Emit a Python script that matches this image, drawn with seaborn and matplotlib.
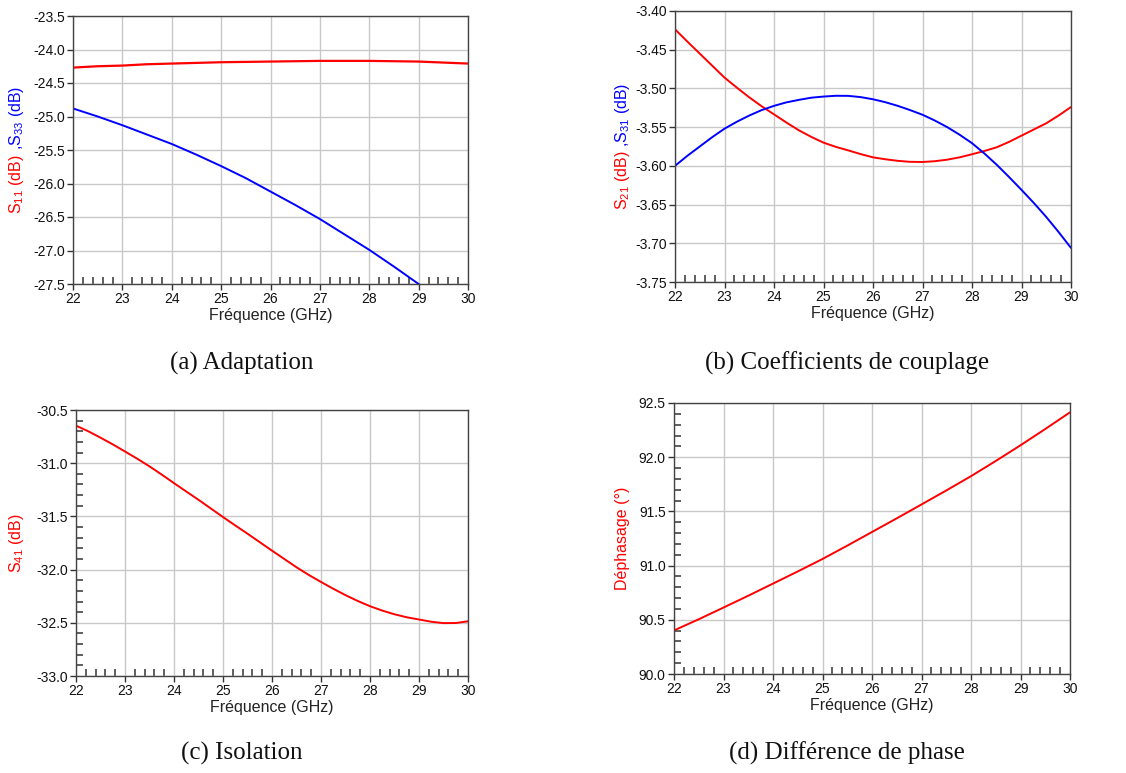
import numpy as np
import pandas as pd
import matplotlib
matplotlib.use("Agg")
import matplotlib.pyplot as plt
from matplotlib.ticker import MultipleLocator, FormatStrFormatter
import seaborn as sns

# frequency grid (GHz)
freq = [22.0, 22.5, 23.0, 23.5, 24.0, 24.5, 25.0, 25.5, 26.0,
        26.5, 27.0, 27.5, 28.0, 28.5, 29.0, 29.5, 30.0]
# finer grid for the more curved traces
freq_q = [22.0, 22.25, 22.5, 22.75, 23.0, 23.25, 23.5, 23.75, 24.0, 24.25, 24.5,
          24.75, 25.0, 25.25, 25.5, 25.75, 26.0, 26.25, 26.5, 26.75, 27.0, 27.25,
          27.5, 27.75, 28.0, 28.25, 28.5, 28.75, 29.0, 29.25, 29.5, 29.75, 30.0]

# (a) adaptation
s11 = [-24.27, -24.25, -24.24, -24.22, -24.21, -24.20, -24.19, -24.185, -24.18,
       -24.175, -24.17, -24.17, -24.17, -24.175, -24.18, -24.195, -24.21]
s33 = [-24.88, -25.00, -25.13, -25.27, -25.41, -25.57, -25.74, -25.92, -26.12,
       -26.32, -26.53, -26.76, -26.99, -27.24, -27.50, -27.77, -28.05]

# (b) coupling
s21 = [-3.4236, -3.4395, -3.455, -3.4705, -3.486, -3.499, -3.5115, -3.523, -3.5335,
       -3.544, -3.554, -3.5625, -3.570, -3.5755, -3.580, -3.5848, -3.589, -3.5915,
       -3.5935, -3.5948, -3.595, -3.594, -3.592, -3.589, -3.585, -3.5808, -3.576,
       -3.569, -3.561, -3.553, -3.545, -3.535, -3.524]
s31 = [-3.600, -3.587, -3.575, -3.563, -3.552, -3.543, -3.535, -3.528, -3.5225,
       -3.518, -3.5148, -3.512, -3.5105, -3.5095, -3.5096, -3.5112, -3.514, -3.5178,
       -3.5225, -3.528, -3.534, -3.5415, -3.550, -3.5598, -3.5707, -3.584, -3.5986,
       -3.6145, -3.631, -3.648, -3.666, -3.6855, -3.706]

# (c) isolation
s41 = [-30.647, -30.70, -30.76, -30.823, -30.89, -30.958, -31.03, -31.107, -31.1875,
       -31.266, -31.344, -31.425, -31.506, -31.585, -31.6625, -31.742, -31.822,
       -31.90, -31.978, -32.05, -32.116, -32.18, -32.24, -32.295, -32.344, -32.385,
       -32.42, -32.448, -32.469, -32.49, -32.503, -32.502, -32.486]

# (d) phase difference
phase = [90.402, 90.505, 90.613, 90.722, 90.834, 90.946, 91.061, 91.184, 91.310,
         91.436, 91.564, 91.693, 91.825, 91.965, 92.110, 92.26, 92.414]

captions = ["(a) Adaptation", "(b) Coefficients de couplage",
            "(c) Isolation", "(d) Différence de phase"]

RED = "#ff0000"
BLUE = "#0000ff"
W, H = 1126, 773

sns.set_style("white")
plt.rcParams["font.family"] = ["Liberation Sans", "DejaVu Sans"]
plt.rcParams["mathtext.default"] = "regular"

fig = plt.figure(figsize=(W / 100, H / 100), dpi=100)


def px_axes(left, top, right, bottom):
    return fig.add_axes([left / W, 1 - bottom / H, (right - left) / W, (bottom - top) / H])


def style_axes(ax, ylim, ymajor, fmt, yminor=None):
    ax.set_xlim(22, 30)
    ax.set_ylim(*ylim)
    ax.xaxis.set_major_locator(MultipleLocator(1))
    ax.xaxis.set_minor_locator(MultipleLocator(0.2))
    ax.yaxis.set_major_locator(MultipleLocator(ymajor))
    ax.yaxis.set_major_formatter(FormatStrFormatter(fmt))
    if yminor:
        ax.yaxis.set_minor_locator(MultipleLocator(yminor))
    ax.grid(True, which="major", color="#c8c8c8", lw=1)
    ax.set_axisbelow(True)
    for sp in ax.spines.values():
        sp.set_color("#444444")
        sp.set_linewidth(1.0)
    ax.tick_params(which="major", direction="out", length=4, width=1, bottom=True, left=True,
                   color="#333333", labelsize=10, pad=2, labelcolor="#111111")
    ax.tick_params(which="minor", direction="in", length=5, width=1.1, bottom=True,
                   color="#333333")
    ax.tick_params(axis="y", which="minor", left=bool(yminor))
    ax.set_xlabel("Fréquence (GHz)", fontsize=11.5, labelpad=1, color="#222222")
    ax.set_ylabel("")


def colored_ylabel(ax, parts, x_px):
    # stack rotated pieces bottom-to-top, centred on the axes
    r = fig.canvas.get_renderer()
    texts = []
    for s, c in parts:
        t = fig.text(0, 0, s, color=c, rotation=90, rotation_mode="anchor",
                     ha="left", va="center", fontsize=11.5)
        texts.append(t)
    lens = [t.get_window_extent(r).height for t in texts]
    bb = ax.get_window_extent(r)
    y0 = (bb.y0 + bb.y1) / 2 - sum(lens) / 2
    for t, l in zip(texts, lens):
        t.set_position((x_px / W, y0 / H))
        y0 += l


df = pd.DataFrame({"f": freq, "s11": s11, "s33": s33, "phase": phase})
dq = pd.DataFrame({"f": freq_q, "s21": s21, "s31": s31, "s41": s41})

# (a)
ax_a = px_axes(73, 16, 468, 284)
sns.lineplot(data=df, x="f", y="s11", ax=ax_a, color=RED, lw=1.6)
sns.lineplot(data=df, x="f", y="s33", ax=ax_a, color=BLUE, lw=1.4)
style_axes(ax_a, (-27.5, -23.5), 0.5, "%.1f")

# (b)
ax_b = px_axes(675, 11, 1071, 282)
sns.lineplot(data=dq, x="f", y="s21", ax=ax_b, color=RED, lw=1.4)
sns.lineplot(data=dq, x="f", y="s31", ax=ax_b, color=BLUE, lw=1.4)
style_axes(ax_b, (-3.75, -3.40), 0.05, "%.2f")

# (c)
ax_c = px_axes(76, 410, 468, 676)
sns.lineplot(data=dq, x="f", y="s41", ax=ax_c, color=RED, lw=1.4)
style_axes(ax_c, (-33.0, -30.5), 0.5, "%.1f", yminor=0.1)

# (d)
ax_d = px_axes(674, 403, 1070, 674)
sns.lineplot(data=df, x="f", y="phase", ax=ax_d, color=RED, lw=1.4)
style_axes(ax_d, (90.0, 92.5), 0.5, "%.1f", yminor=0.1)

fig.canvas.draw()
colored_ylabel(ax_a, [("S$_{11}$ (dB)", RED), (" ,S$_{33}$ (dB)", BLUE)], 17)
colored_ylabel(ax_b, [("S$_{21}$ (dB)", RED), (" ,S$_{31}$ (dB)", BLUE)], 623)
colored_ylabel(ax_c, [("S$_{41}$ (dB)", RED)], 16)
colored_ylabel(ax_d, [("Déphasage (°)", RED)], 623)

cap_pos = [(242, 363), (847, 363), (242, 753), (847, 753)]
for txt, (cx, cy) in zip(captions, cap_pos):
    fig.text(cx / W, 1 - cy / H, txt, ha="center", va="center", fontsize=18,
             family=["Liberation Serif", "DejaVu Serif"], color="#111111")

fig.savefig("out.png", dpi=100)
